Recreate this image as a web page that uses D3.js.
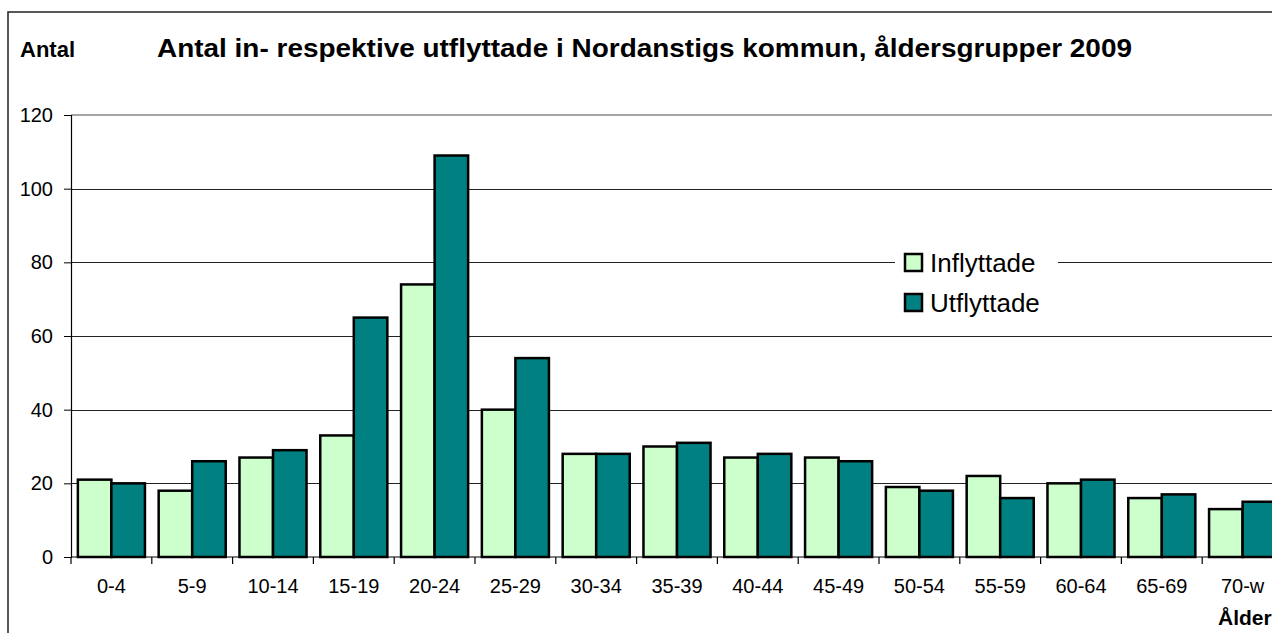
<!DOCTYPE html>
<html><head><meta charset="utf-8">
<script src="https://cdn.jsdelivr.net/npm/d3@7"></script>
<style>body{margin:0;background:#fff;}svg{display:block;font-family:"Liberation Sans",Arial,sans-serif;}</style>
</head><body>
<svg id="c" width="1272" height="633"></svg>
<script>
const categories = ["0-4","5-9","10-14","15-19","20-24","25-29","30-34","35-39","40-44","45-49","50-54","55-59","60-64","65-69","70-w"];
const inflyttade = [21,18,27,33,74,40,28,30,27,27,19,22,20,16,13];
const utflyttade = [20,26,29,65,109,54,28,31,28,26,18,16,21,17,15];
const seriesNames = ["Inflyttade","Utflyttade"];
const colors = ["#CCFFCC","#008080"];
const yTicks = [0,20,40,60,80,100,120];

const FF = "'Liberation Sans',Arial,sans-serif";
const svg = d3.select("#c");
const L = 71, T = 115, B = 557, bw = 80.8;
const R = L + bw*categories.length;

// outer frame
svg.append("rect").attr("x",8).attr("y",12).attr("width",1300).attr("height",700)
  .attr("fill","#fff").attr("stroke","#222").attr("stroke-width",1.5);

const x = d3.scaleBand().domain(categories).range([L,R]).paddingInner(0.17).paddingOuter(0.085);
const xs = d3.scaleBand().domain(seriesNames).range([0,x.bandwidth()]);
const y = d3.scaleLinear().domain([0,120]).range([B,T]);

// plot top border
svg.append("line").attr("x1",L).attr("x2",1272).attr("y1",T).attr("y2",T).attr("stroke","#888").attr("stroke-width",1.5);

// gridlines
svg.append("g").selectAll("line").data(yTicks.filter(d=>d>0 && d<120)).join("line")
  .attr("x1",L).attr("x2",1272).attr("y1",d=>Math.round(y(d))+0.5).attr("y2",d=>Math.round(y(d))+0.5)
  .attr("stroke","#222").attr("stroke-width",1);

// bars
const data = categories.map((c,i)=>({c, v:[inflyttade[i],utflyttade[i]]}));
const g = svg.append("g");
data.forEach(d=>{
  seriesNames.forEach((s,j)=>{
    g.append("rect")
      .attr("x", x(d.c)+xs(s))
      .attr("y", y(d.v[j]))
      .attr("width", xs.bandwidth())
      .attr("height", B - y(d.v[j]))
      .attr("fill", colors[j]).attr("stroke","#000").attr("stroke-width",2.5);
  });
});

// y axis
const yAxis = d3.axisLeft(y).tickValues(yTicks).tickSize(7).tickPadding(11);
const ya = svg.append("g").attr("transform",`translate(${L},0)`).call(yAxis);
ya.selectAll("text").attr("font-size",20).attr("fill","#000").style("font-family",FF);
ya.selectAll("line").attr("stroke","#000");
ya.select(".domain").attr("stroke","#000").attr("stroke-width",1.2);

// x axis
const xTickPos = d3.range(categories.length+1).map(i=>L+i*bw);
svg.append("line").attr("x1",L).attr("x2",1272).attr("y1",B).attr("y2",B).attr("stroke","#000").attr("stroke-width",1.2);
svg.append("g").selectAll("line").data(xTickPos).join("line")
  .attr("x1",d=>d).attr("x2",d=>d).attr("y1",B).attr("y2",B+7).attr("stroke","#000").attr("stroke-width",1.2);
const xa = svg.append("g").attr("transform",`translate(0,${B})`).call(d3.axisBottom(x).tickSize(0).tickPadding(0));
xa.select(".domain").remove();
xa.selectAll("text").attr("dy",null).attr("y",36).attr("font-size",20).attr("fill","#000").style("font-family",FF);

// titles
svg.append("text").attr("x",157).attr("y",57)
  .attr("font-size",26).attr("font-weight","bold")
  .attr("textLength",975).attr("lengthAdjust","spacingAndGlyphs")
  .text("Antal in- respektive utflyttade i Nordanstigs kommun, åldersgrupper 2009");
svg.append("text").attr("x",20).attr("y",57).attr("font-size",22).attr("font-weight","bold").text("Antal");
svg.append("text").attr("x",1218).attr("y",625).attr("font-size",21).attr("font-weight","bold").text("Ålder");

// legend
const lg = svg.append("g");
lg.append("rect").attr("x",895).attr("y",243).attr("width",163).attr("height",82).attr("fill","#fff");
seriesNames.forEach((s,j)=>{
  const yy = 254 + j*40;
  lg.append("rect").attr("x",905).attr("y",yy).attr("width",17).attr("height",17)
    .attr("fill",colors[j]).attr("stroke","#000").attr("stroke-width",2.5);
  lg.append("text").attr("x",930).attr("y",yy+18).attr("font-size",26).attr("fill","#000").text(s);
});
</script>
</body></html>
